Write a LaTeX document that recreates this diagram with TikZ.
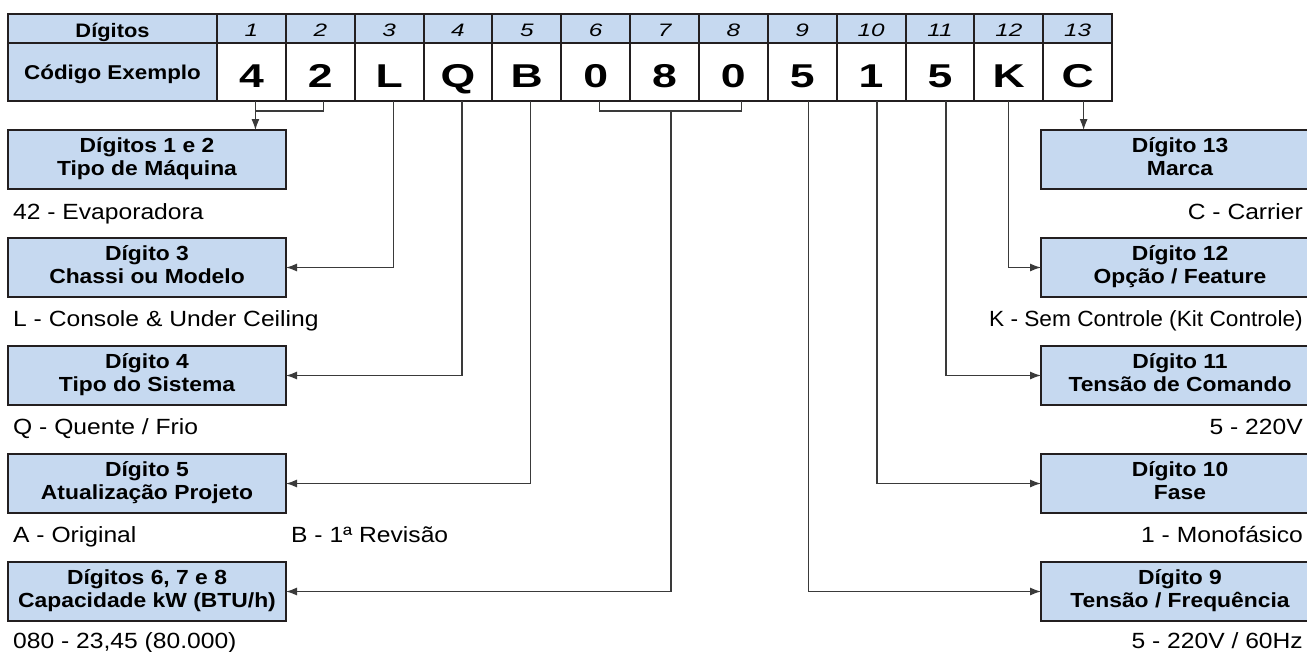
\documentclass[tikz,border=0pt]{standalone}
\usepackage{fontspec}
\setmainfont[FakeStretch=1.12]{Liberation Sans}
\newfontfamily\digitfont[FakeStretch=1.35]{Liberation Sans}
\usepackage{graphicx}
\usepackage{xcolor}
\definecolor{cellblue}{HTML}{C6D9F0}
\definecolor{framecol}{HTML}{231F20}
\definecolor{linecol}{HTML}{3A3A3A}
\usetikzlibrary{arrows.meta, positioning, calc}

\begin{document}
\begin{tikzpicture}[x=1pt, y=-1pt, >={Latex[length=11pt,width=8pt]},
  cell/.style={draw=framecol, line width=2pt, inner sep=0pt, outer sep=0pt,
               minimum width=68.85pt},
  labcell/.style={cell, fill=cellblue, minimum width=209pt,
                  font=\fontsize{19.5}{20}\selectfont\bfseries},
  headcell/.style={cell, fill=cellblue, minimum height=29pt, text height=15pt,
                   text depth=0pt, font=\digitfont\fontsize{18}{18}\selectfont\itshape},
  codecell/.style={cell, fill=white, minimum height=58pt, text height=30pt,
                   text depth=0pt, font=\digitfont\fontsize{33}{33}\selectfont\bfseries},
  infobox/.style={draw=framecol, fill=cellblue, line width=2pt, inner sep=0pt,
                  outer sep=0pt, minimum width=278pt, minimum height=59pt,
                  align=center, text height=37pt, text depth=6pt,
                  font=\fontsize{20.4}{23}\selectfont\bfseries},
  desc/.style={inner sep=0pt, font=\fontsize{22}{24}\selectfont},
  conn/.style={draw=linecol, line width=1.2pt},
  arr/.style={conn, ->}]

  \useasboundingbox (0,0) rectangle (1307,651);
  \clip (0,0) rectangle (1307,651);

  % table: digit numbers
  \node[labcell, minimum height=29pt, text height=17pt, text depth=0pt]
        (hdig) at (112.5,28.5) {Dígitos};
  \node[headcell, right=0pt of hdig] (h1) {1};
  \node[headcell, right=0pt of h1] (h2) {2};
  \node[headcell, right=0pt of h2] (h3) {3};
  \node[headcell, right=0pt of h3] (h4) {4};
  \node[headcell, right=0pt of h4] (h5) {5};
  \node[headcell, right=0pt of h5] (h6) {6};
  \node[headcell, right=0pt of h6] (h7) {7};
  \node[headcell, right=0pt of h7] (h8) {8};
  \node[headcell, right=0pt of h8] (h9) {9};
  \node[headcell, right=0pt of h9] (h10) {10};
  \node[headcell, right=0pt of h10] (h11) {11};
  \node[headcell, right=0pt of h11] (h12) {12};
  \node[headcell, right=0pt of h12] (h13) {13};

  % table: example code
  \node[labcell, minimum height=58pt, text height=14pt, text depth=0pt,
        font=\fontsize{20}{20}\selectfont\bfseries]
        (hcode) at (112.5,72) {Código Exemplo};
  \node[codecell, right=0pt of hcode] (d1) {4};
  \node[codecell, right=0pt of d1] (d2) {2};
  \node[codecell, right=0pt of d2] (d3) {L};
  \node[codecell, right=0pt of d3] (d4) {Q};
  \node[codecell, right=0pt of d4] (d5) {B};
  \node[codecell, right=0pt of d5] (d6) {0};
  \node[codecell, right=0pt of d6] (d7) {8};
  \node[codecell, right=0pt of d7] (d8) {0};
  \node[codecell, right=0pt of d8] (d9) {5};
  \node[codecell, right=0pt of d9] (d10) {1};
  \node[codecell, right=0pt of d10] (d11) {5};
  \node[codecell, right=0pt of d11] (d12) {K};
  \node[codecell, right=0pt of d12] (d13) {C};

  % left column
  \node[infobox] (maquina) at (147,159.5) {Dígitos 1 e 2\\Tipo de Máquina};
  \node[desc, anchor=base west] (evap) at ($(maquina.south west)+(5,30)$)
        {42 - Evaporadora};
  \node[infobox, below=49pt of maquina] (chassi) {Dígito 3\\Chassi ou Modelo};
  \node[desc, anchor=base west] (console) at ($(chassi.south west)+(5,29)$)
        {L - Console \& Under Ceiling};
  \node[infobox, below=49pt of chassi] (sistema) {Dígito 4\\Tipo do Sistema};
  \node[desc, anchor=base west] (quente) at ($(sistema.south west)+(5,29)$)
        {Q - Quente / Frio};
  \node[infobox, below=49pt of sistema] (projeto) {Dígito 5\\Atualização Projeto};
  \node[desc, anchor=base west] (original) at ($(projeto.south west)+(5,29)$)
        {A - Original};
  \node[desc, anchor=base west] (revisao) at ([xshift=278pt]original.base west)
        {B - 1ª Revisão};
  \node[infobox, below=49pt of projeto] (capac) {Dígitos 6, 7 e 8\\Capacidade kW (BTU/h)};
  \node[desc, anchor=base west] (btu) at ($(capac.south west)+(5,27)$)
        {080 - 23,45 (80.000)};

  % right column
  \node[infobox] (marca) at (1180,159.5) {Dígito 13\\Marca};
  \node[desc, anchor=base east] (carrier) at ($(marca.south east)+(-16,30)$)
        {C - Carrier};
  \node[infobox, below=49pt of marca] (feature) {Dígito 12\\Opção / Feature};
  \node[desc, anchor=base east] (semctrl) at ($(feature.south east)+(-16,29)$)
        {\scalebox{0.92}[1]{K - Sem Controle (Kit Controle)}};
  \node[infobox, below=49pt of feature] (comando) {Dígito 11\\Tensão de Comando};
  \node[desc, anchor=base east] (cmdv) at ($(comando.south east)+(-16,29)$)
        {5 - 220V};
  \node[infobox, below=49pt of comando] (fase) {Dígito 10\\Fase};
  \node[desc, anchor=base east] (mono) at ($(fase.south east)+(-16,29)$)
        {1 - Monofásico};
  \node[infobox, below=49pt of fase] (tensfreq) {Dígito 9\\Tensão / Frequência};
  \node[desc, anchor=base east] (hz) at ($(tensfreq.south east)+(-16,27)$)
        {5 - 220V / 60Hz};

  % drop points under the digits
  \coordinate (o1) at ([xshift=4pt]d1.south);
  \coordinate (o2) at ([xshift=3pt]d2.south);
  \coordinate (o3) at ([xshift=4.5pt]d3.south);
  \coordinate (o4) at ([xshift=4pt]d4.south);
  \coordinate (o5) at ([xshift=4pt]d5.south);
  \coordinate (o6) at ([xshift=4pt]d6.south);
  \coordinate (o7) at ([xshift=6.5pt]d7.south);
  \coordinate (o8) at ([xshift=8.5pt]d8.south);
  \coordinate (o9) at ([xshift=6.5pt]d9.south);
  \coordinate (o10) at ([xshift=6pt]d10.south);
  \coordinate (o11) at ([xshift=6pt]d11.south);
  \coordinate (o12) at (d12.south);
  \coordinate (o13) at ([xshift=6pt]d13.south);

  \draw[conn] (o1) -- ++(0,10) -| (o2);
  \draw[arr] (o1) -- (o1 |- maquina.north);
  \draw[arr] (o3) |- (chassi.east);
  \draw[arr] (o4) |- (sistema.east);
  \draw[arr] (o5) |- (projeto.east);
  \draw[conn] (o6) -- ++(0,10) -| (o8);
  \draw[arr] ($(o7)+(0,10)$) |- (capac.east);
  \draw[arr] (o9) |- (tensfreq.west);
  \draw[arr] (o10) |- (fase.west);
  \draw[arr] (o11) |- (comando.west);
  \draw[arr] (o12) |- (feature.west);
  \draw[arr] (o13) -- (o13 |- marca.north);
\end{tikzpicture}
\end{document}
